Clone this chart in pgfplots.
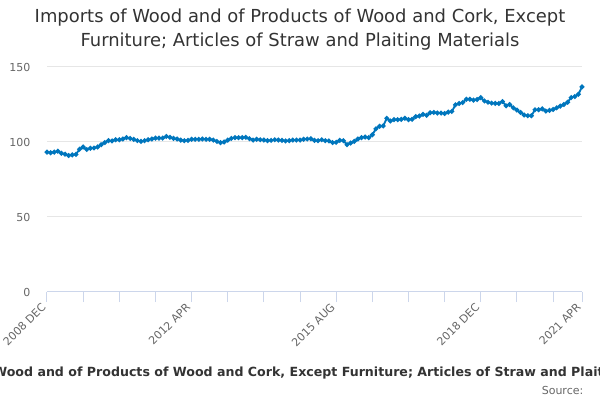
\documentclass[border=0pt]{standalone}
\usepackage{fontspec}
\setmainfont{DejaVu Sans}
\usepackage{pgfplots}
\pgfplotsset{compat=1.18}
\definecolor{linec}{HTML}{0076BD}
\definecolor{gridc}{HTML}{E6E6E6}
\definecolor{axisc}{HTML}{CCD6EB}
\definecolor{titlec}{HTML}{333333}
\definecolor{tickc}{HTML}{666666}
\pgfplotstableread{
m v
0 93.2
1 92.8
2 93.2
3 93.9
4 92.5
5 91.9
6 91.0
7 91.4
8 91.7
9 95.2
10 96.7
11 95.0
12 95.8
13 96.0
14 96.7
15 98.2
16 99.6
17 100.9
18 100.7
19 101.5
20 101.5
21 102.0
22 102.9
23 102.4
24 101.8
25 100.9
26 100.4
27 100.9
28 101.5
29 102.0
30 102.6
31 102.6
32 102.6
33 103.7
34 103.1
35 102.4
36 102.0
37 101.3
38 100.9
39 101.1
40 101.8
41 101.8
42 101.8
43 102.0
44 101.8
45 101.8
46 101.3
47 100.4
48 99.6
49 100.0
50 101.3
51 102.4
52 102.9
53 102.9
54 102.9
55 103.1
56 102.2
57 101.3
58 101.8
59 101.5
60 101.3
61 100.9
62 101.1
63 101.5
64 101.3
65 101.1
66 100.7
67 100.9
68 101.3
69 101.3
70 101.3
71 101.8
72 102.0
73 102.2
74 101.1
75 100.9
76 101.5
77 100.9
78 100.7
79 99.6
80 99.8
81 101.1
82 100.9
83 98.2
84 99.3
85 100.4
86 102.0
87 102.9
88 103.3
89 102.9
90 104.8
91 108.8
92 110.5
93 110.7
94 115.8
95 114.0
96 114.9
97 114.9
98 115.1
99 115.8
100 114.9
101 115.1
102 116.9
103 117.3
104 118.4
105 117.8
106 119.5
107 119.7
108 119.3
109 119.3
110 119.0
111 119.9
112 120.4
113 124.8
114 125.7
115 126.3
116 128.5
117 128.5
118 127.9
119 128.3
120 129.6
121 127.4
122 126.5
123 125.9
124 125.7
125 125.7
126 127.0
127 124.1
128 125.0
129 122.8
130 121.3
131 119.7
132 118.0
133 117.5
134 117.5
135 121.5
136 121.5
137 122.1
138 120.6
139 121.1
140 121.7
141 122.8
142 123.9
143 125.0
144 126.5
145 129.6
146 130.3
147 131.8
148 136.8
}\datatable
\begin{document}
\begin{tikzpicture}
\useasboundingbox (0,0) rectangle (450pt,300pt);
\begin{axis}[
  at={(35.25pt,81pt)}, anchor=south west,
  scale only axis, width=401.25pt, height=168.75pt,
  xmin=0, xmax=148, ymin=0, ymax=150,
  axis x line*=bottom, axis y line*=left,
  y axis line style={draw=none},
  x axis line style={axisc, line width=0.75pt},
  ytick={0,50,100,150},
  ymajorgrids, grid style={gridc, line width=0.75pt},
  ytick style={draw=none},
  xtick={0,40,80,120,148},
  xticklabels={2008 DEC,2012 APR,2015 AUG,2018 DEC,2021 APR},
  minor xtick={10,20,30,50,60,70,90,100,110,130,140},
  xtick style={axisc, line width=0.75pt},
  minor x tick style={axisc, line width=0.75pt},
  tick align=outside, major tick length=7.5pt, minor tick length=7.5pt,
  xticklabel style={rotate=45, anchor=east, font=\fontsize{8.25}{10}\selectfont, color=tickc},
  yticklabel style={font=\fontsize{8.25}{10}\selectfont, color=tickc, xshift=-1.5pt},
  /pgf/number format/assume math mode=true,
  clip=false,
]
\addplot[linec, line width=1.4pt, mark=*, mark size=1.05pt] table[x=m,y=v] {\datatable};
\end{axis}
\node[titlec, font=\fontsize{13.45}{15}\selectfont] at (225pt,286.5pt) {Imports of Wood and of Products of Wood and Cork, Except};
\node[titlec, font=\fontsize{13.45}{15}\selectfont] at (225pt,268.5pt) {Furniture; Articles of Straw and Plaiting Materials};
\begin{scope}
\clip (0,0) rectangle (450pt,300pt);
\node[titlec, font=\bfseries\fontsize{9.45}{11}\selectfont] at (229.5pt,20.25pt) {Imports of Wood and of Products of Wood and Cork, Except Furniture; Articles of Straw and Plaiting Materials};
\end{scope}
\node[tickc, anchor=east, font=\fontsize{8.25}{10}\selectfont] at (441pt,7.5pt) {Source:};
\end{tikzpicture}
\end{document}
